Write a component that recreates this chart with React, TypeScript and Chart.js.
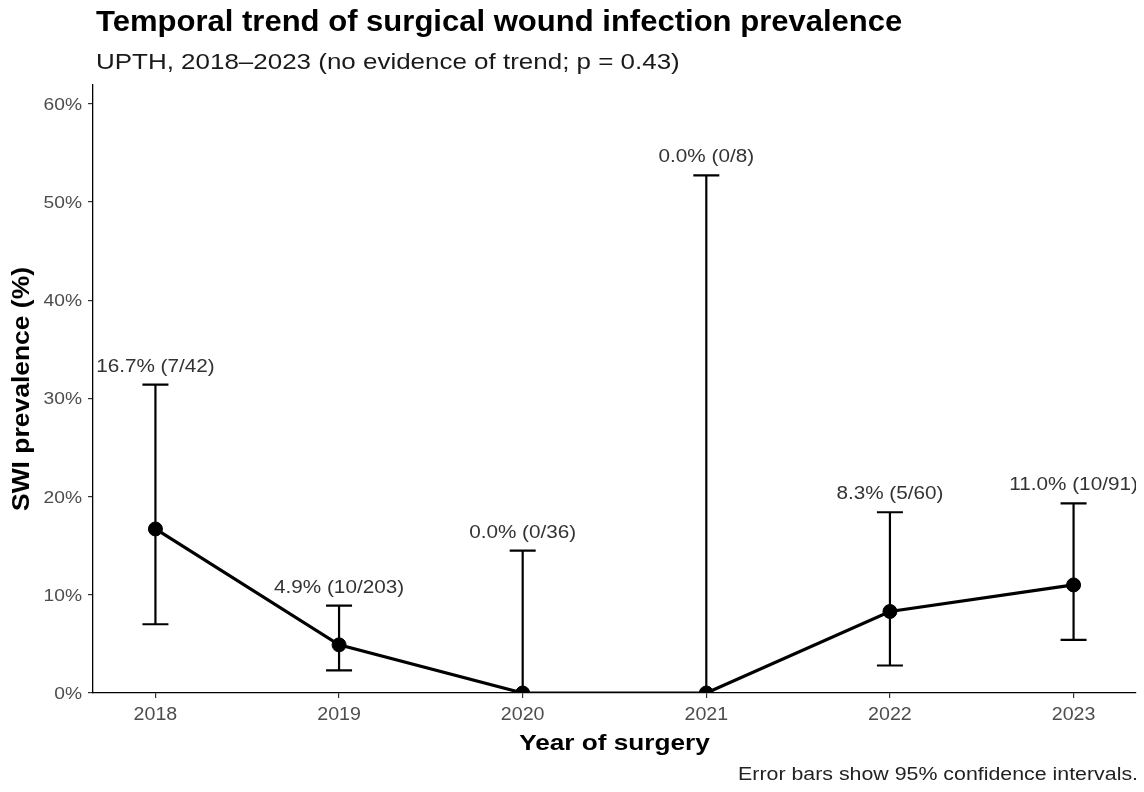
import React, { useEffect, useRef } from "react";
import { Chart, registerables } from "chart.js";

Chart.register(...registerables);

// ---- Data ----
const YEARS = [2018, 2019, 2020, 2021, 2022, 2023];
const PREVALENCE = [16.7, 4.9, 0.0, 0.0, 8.3, 11.0];
const CI_LOW = [7.0, 2.3, 0.0, 0.0, 2.8, 5.4];
const CI_HIGH = [31.4, 8.9, 14.5, 52.7, 18.4, 19.3];
const CASES = [7, 10, 0, 0, 5, 10];
const TOTALS = [42, 203, 36, 8, 60, 91];
const Y_TICKS = [0, 10, 20, 30, 40, 50, 60];
const Y_TICK_LABELS = ["0%", "10%", "20%", "30%", "40%", "50%", "60%"];
const X_TICKS = [2018, 2019, 2020, 2021, 2022, 2023];
const X_TICK_LABELS = ["2018", "2019", "2020", "2021", "2022", "2023"];

const TITLE = "Temporal trend of surgical wound infection prevalence";
const SUBTITLE = "UPTH, 2018\u20132023 (no evidence of trend; p = 0.43)";
const X_TITLE = "Year of surgery";
const Y_TITLE = "SWI prevalence (%)";
const CAPTION = "Error bars show 95% confidence intervals.";

const FONT = "'Liberation Sans', Arial, Helvetica, sans-serif";

function drawText(
  ctx: CanvasRenderingContext2D,
  text: string,
  x: number,
  y: number,
  font: string,
  color: string,
  align: CanvasTextAlign,
  baseline: CanvasTextBaseline,
  stretch: number,
  rotate = 0
) {
  ctx.save();
  ctx.translate(x, y);
  if (rotate) ctx.rotate(rotate);
  ctx.scale(stretch, 1);
  ctx.font = font;
  ctx.fillStyle = color;
  ctx.textAlign = align;
  ctx.textBaseline = baseline;
  ctx.fillText(text, 0, 0);
  ctx.restore();
}

const errorBarPlugin = {
  id: "errorBars",
  beforeDatasetsDraw(chart: any) {
    const { ctx, chartArea, scales } = chart;
    const xs = scales.x;
    const ys = scales.y;
    ctx.save();
    ctx.beginPath();
    ctx.rect(chartArea.left, chartArea.top, chartArea.right - chartArea.left, chartArea.bottom - chartArea.top);
    ctx.clip();
    ctx.strokeStyle = "#000";
    ctx.lineWidth = 2.2;
    ctx.lineCap = "butt";
    YEARS.forEach((yr, i) => {
      const x = xs.getPixelForValue(yr);
      const yl = ys.getPixelForValue(CI_LOW[i]);
      const yh = ys.getPixelForValue(CI_HIGH[i]);
      const half = 13;
      ctx.beginPath();
      ctx.moveTo(x, yl);
      ctx.lineTo(x, yh);
      ctx.moveTo(x - half, yh);
      ctx.lineTo(x + half, yh);
      ctx.moveTo(x - half, yl);
      ctx.lineTo(x + half, yl);
      ctx.stroke();
    });
    ctx.restore();
  },
  afterDatasetsDraw(chart: any) {
    const { ctx, chartArea, scales } = chart;
    const xs = scales.x;
    const ys = scales.y;
    ctx.save();
    ctx.beginPath();
    ctx.rect(chartArea.left, 0, chartArea.right - chartArea.left, chartArea.bottom);
    ctx.clip();
    YEARS.forEach((yr, i) => {
      const x = xs.getPixelForValue(yr);
      const yh = ys.getPixelForValue(CI_HIGH[i]);
      const label = `${PREVALENCE[i].toFixed(1)}% (${CASES[i]}/${TOTALS[i]})`;
      drawText(ctx, label, x, yh - 13, `18px ${FONT}`, "#333333", "center", "alphabetic", 1.15);
    });
    ctx.restore();
  },
  afterDraw(chart: any) {
    const { ctx, chartArea, scales } = chart;
    const xs = scales.x;
    const ys = scales.y;
    // tick labels
    Y_TICKS.forEach((v, i) => {
      const y = ys.getPixelForValue(v);
      drawText(ctx, Y_TICK_LABELS[i], chartArea.left - 11, y + 6, `17px ${FONT}`, "#4d4d4d", "right", "alphabetic", 1.13);
    });
    X_TICKS.forEach((v, i) => {
      const x = xs.getPixelForValue(v);
      drawText(ctx, X_TICK_LABELS[i], x, chartArea.bottom + 27, `18px ${FONT}`, "#4d4d4d", "center", "alphabetic", 1.09);
    });
    // titles
    drawText(ctx, TITLE, 96, 31, `bold 29px ${FONT}`, "#000", "left", "alphabetic", 1.07);
    drawText(ctx, SUBTITLE, 96, 69, `22px ${FONT}`, "#1a1a1a", "left", "alphabetic", 1.18);
    drawText(ctx, X_TITLE, (chartArea.left + chartArea.right) / 2, 750, `bold 22px ${FONT}`, "#000", "center", "alphabetic", 1.19);
    drawText(ctx, Y_TITLE, 29, (chartArea.top + chartArea.bottom) / 2, `bold 23px ${FONT}`, "#000", "center", "alphabetic", 1.15, -Math.PI / 2);
    drawText(ctx, CAPTION, 1138, 780, `17.5px ${FONT}`, "#222", "right", "alphabetic", 1.22);
  },
};

export default function App() {
  const canvasRef = useRef<HTMLCanvasElement | null>(null);

  useEffect(() => {
    const canvas = canvasRef.current;
    if (!canvas) return;
    const chart = new Chart(canvas, {
      type: "line",
      data: {
        datasets: [
          {
            data: YEARS.map((x, i) => ({ x, y: PREVALENCE[i] })),
            borderColor: "#000",
            backgroundColor: "#000",
            borderWidth: 3.2,
            pointRadius: 7,
            pointHoverRadius: 7,
            pointBackgroundColor: "#000",
            pointBorderColor: "#000",
            pointBorderWidth: 1,
            tension: 0,
            clip: 0,
          } as any,
        ],
      },
      options: {
        responsive: false,
        animation: false,
        events: [],
        layout: { padding: { top: 85, left: 0, right: 4, bottom: 79 } },
        plugins: {
          legend: { display: false },
          tooltip: { enabled: false },
          title: { display: false },
        },
        scales: {
          x: {
            type: "linear",
            min: 2017.66,
            max: 2023.34,
            afterBuildTicks: (scale: any) => {
              scale.ticks = X_TICKS.map((v) => ({ value: v }));
            },
            afterFit: (scale: any) => {
              scale.height = 20;
            },
            ticks: { display: false },
            grid: { display: true, drawOnChartArea: false, drawTicks: true, tickLength: 5, color: "#333", lineWidth: 1.2 },
            border: { display: true, color: "#000", width: 1.3 },
          },
          y: {
            type: "linear",
            min: 0,
            max: 61.9,
            afterBuildTicks: (scale: any) => {
              scale.ticks = Y_TICKS.map((v) => ({ value: v }));
            },
            afterFit: (scale: any) => {
              scale.width = 93;
            },
            ticks: { display: false },
            grid: { display: true, drawOnChartArea: false, drawTicks: true, tickLength: 5, color: "#333", lineWidth: 1.2 },
            border: { display: true, color: "#000", width: 1.3 },
          },
        },
      },
      plugins: [errorBarPlugin],
    });
    return () => chart.destroy();
  }, []);

  return (
    <div style={{ position: "absolute", left: 0, top: 0, width: 1144, height: 792, background: "#fff" }}>
      <canvas ref={canvasRef} width={1144} height={792} style={{ display: "block" }} />
    </div>
  );
}
